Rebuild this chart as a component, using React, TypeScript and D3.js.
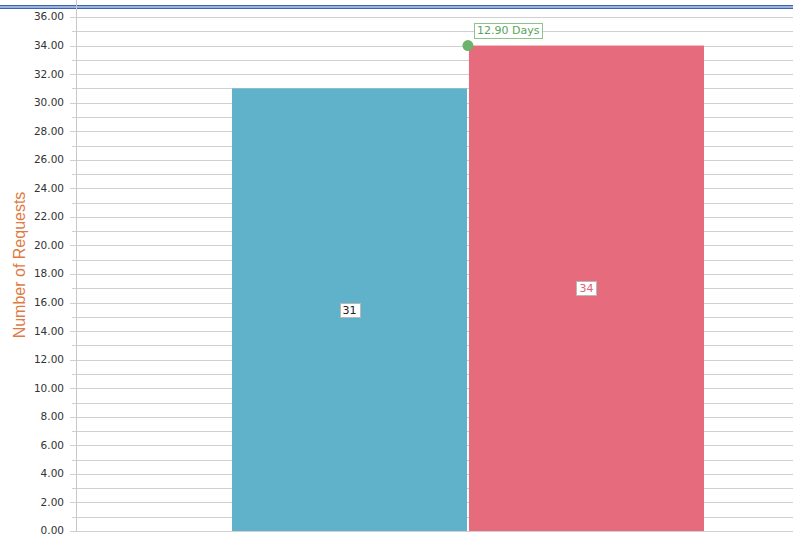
import React, { useEffect, useRef } from 'react';
import * as d3 from 'd3';

// chart values
const seriesNames: string[] = ['Requests A', 'Requests B'];
const seriesValues: number[] = [31, 34];
const seriesColors: string[] = ['#60b2cb', '#e66b7c'];
const labelColors: string[] = ['#222222', '#e0607a'];
const durationLabel = '12.90 Days';
const durationValue = 34;
const yTicks: number[] = d3.range(0, 37, 2);

const W = 793;
const H = 535;

const App = () => {
  const svgRef = useRef<SVGSVGElement>(null);

  useEffect(() => {
    const svg = d3.select(svgRef.current);
    svg.selectAll('*').remove();

    const left = 76;
    const top = 17;
    const bottom = 531;

    const y = d3.scaleLinear().domain([0, 36]).range([bottom, top]);
    const x = d3.scaleBand<string>()
      .domain(seriesNames)
      .range([232, 704])
      .paddingInner(0.008);

    const font = '"DejaVu Sans", Verdana, sans-serif';

    // grid lines every unit
    svg.append('g')
      .selectAll('line')
      .data(d3.range(0, 37, 1))
      .join('line')
      .attr('x1', d => (d % 2 === 0 ? left - 6 : left - 4))
      .attr('x2', W)
      .attr('y1', d => Math.round(y(d)) + 0.5)
      .attr('y2', d => Math.round(y(d)) + 0.5)
      .attr('stroke', '#d0d0d0')
      .attr('stroke-width', 1);

    // top double border
    svg.append('rect').attr('x', 0).attr('y', 5).attr('width', W).attr('height', 4).attr('fill', '#9ab3e0');
    svg.append('line').attr('x1', 0).attr('x2', W).attr('y1', 5.5).attr('y2', 5.5).attr('stroke', '#3e63b3');
    svg.append('line').attr('x1', 0).attr('x2', W).attr('y1', 8.5).attr('y2', 8.5).attr('stroke', '#3e63b3');

    // y axis line
    svg.append('line')
      .attr('x1', left + 0.5).attr('x2', left + 0.5)
      .attr('y1', 0).attr('y2', bottom + 1)
      .attr('stroke', '#c8c8c8');

    // tick labels
    svg.append('g')
      .selectAll('text')
      .data(yTicks)
      .join('text')
      .attr('x', 64)
      .attr('y', d => y(d))
      .attr('dy', '0.33em')
      .attr('text-anchor', 'end')
      .attr('font-family', font)
      .attr('font-size', 10.5)
      .attr('fill', '#333')
      .text(d => d.toFixed(2));

    // axis title
    svg.append('text')
      .attr('transform', `translate(25,265) rotate(-90)`)
      .attr('text-anchor', 'middle')
      .attr('font-family', '"Liberation Sans", Arial, sans-serif')
      .attr('font-size', 16)
      .attr('fill', '#e07a45')
      .text('Number of Requests');

    // bars
    svg.append('g')
      .selectAll('rect')
      .data(seriesValues)
      .join('rect')
      .attr('x', (_, i) => x(seriesNames[i])!)
      .attr('y', d => y(d))
      .attr('width', x.bandwidth())
      .attr('height', d => bottom - y(d))
      .attr('fill', (_, i) => seriesColors[i]);

    // value labels
    seriesValues.forEach((v, i) => {
      const cx = x(seriesNames[i])! + x.bandwidth() / 2;
      const cy = (y(v) + bottom) / 2;
      const g = svg.append('g');
      const t = g.append('text')
        .attr('x', cx)
        .attr('y', cy)
        .attr('dy', '0.35em')
        .attr('text-anchor', 'middle')
        .attr('font-family', font)
        .attr('font-size', 11)
        .attr('fill', labelColors[i])
        .text(String(v));
      const bb = (t.node() as SVGTextElement).getBBox();
      g.insert('rect', 'text')
        .attr('x', Math.round(bb.x - 3) + 0.5)
        .attr('y', Math.round(cy - 7) + 0.5)
        .attr('width', Math.round(bb.width + 6))
        .attr('height', 14)
        .attr('fill', '#fff')
        .attr('stroke', '#b8b8b8');
    });

    // duration marker
    const px = x(seriesNames[1])! - 1;
    const py = y(durationValue);
    const lg = svg.append('g');
    const lt = lg.append('text')
      .attr('x', px + 9)
      .attr('y', py - 15)
      .attr('dy', '0.35em')
      .attr('font-family', font)
      .attr('font-size', 11)
      .attr('fill', '#5aa35a')
      .text(durationLabel);
    const lb = (lt.node() as SVGTextElement).getBBox();
    lg.insert('rect', 'text')
      .attr('x', Math.round(lb.x - 3) + 0.5)
      .attr('y', Math.round(py - 23) + 0.5)
      .attr('width', Math.round(lb.width + 5))
      .attr('height', 15)
      .attr('fill', '#fff')
      .attr('stroke', '#8cc48c');
    svg.append('circle')
      .attr('cx', px)
      .attr('cy', py)
      .attr('r', 5.5)
      .attr('fill', '#6cb36c');
  }, []);

  return (
    <svg
      ref={svgRef}
      width={W}
      height={H}
      style={{ position: 'absolute', left: 0, top: 0, background: '#fff' }}
    />
  );
};

export default App;
